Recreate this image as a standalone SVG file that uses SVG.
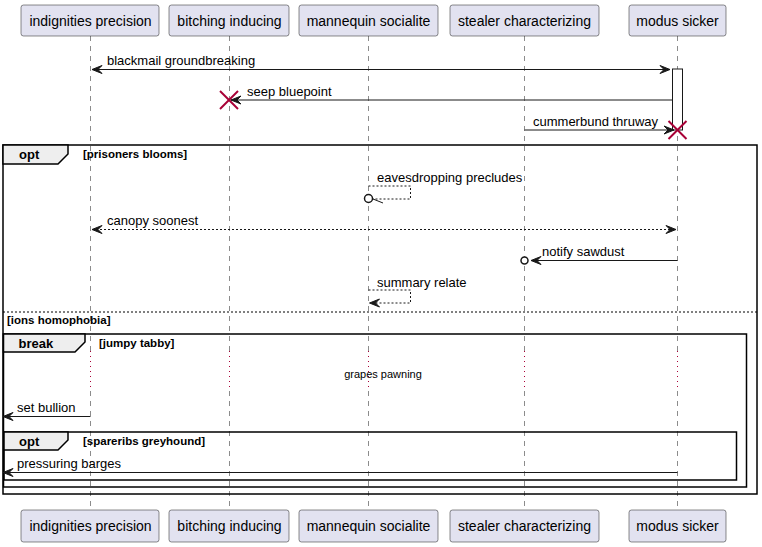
<svg xmlns="http://www.w3.org/2000/svg" width="762" height="547" viewBox="0 0 762 547">
<defs>
<style>
.p rect{fill:#E2E2F0;stroke:#181818;stroke-width:0.5}
.p text{font-family:"Liberation Sans",Arial,sans-serif;font-size:14px;fill:#000;text-anchor:middle}
.life{stroke:#181818;stroke-width:0.5;stroke-dasharray:5,5;fill:none}
.delay{stroke:#A80036;stroke-width:1;stroke-dasharray:1,4;fill:none}
.m{stroke:#181818;stroke-width:1;fill:none}
.md{stroke:#181818;stroke-width:1;fill:none;stroke-dasharray:2,2}
.ah{fill:#181818;stroke:#181818;stroke-width:1}
.lbl{font-family:"Liberation Sans",Arial,sans-serif;font-size:13px;fill:#000}
.frame{fill:none;stroke:#000;stroke-width:1.5}
.tab{fill:#EEEEEE;stroke:#000;stroke-width:1.5}
.ft{font-family:"Liberation Sans",Arial,sans-serif;font-size:13px;font-weight:bold;fill:#000}
.g{font-family:"Liberation Sans",Arial,sans-serif;font-size:11.5px;font-weight:bold;fill:#000}
.x{stroke:#A80036;stroke-width:2}
.sep{stroke:#000;stroke-width:1;stroke-dasharray:2,2}
</style>
</defs>
<g id="lifelines">
<line class="life" x1="90.5" y1="36" x2="90.5" y2="351"/>
<line class="delay" x1="90.5" y1="351" x2="90.5" y2="391"/>
<line class="life" x1="90.5" y1="391" x2="90.5" y2="510"/>
<line class="life" x1="229.5" y1="36" x2="229.5" y2="351"/>
<line class="delay" x1="229.5" y1="351" x2="229.5" y2="391"/>
<line class="life" x1="229.5" y1="391" x2="229.5" y2="510"/>
<line class="life" x1="368.5" y1="36" x2="368.5" y2="351"/>
<line class="delay" x1="368.5" y1="351" x2="368.5" y2="391"/>
<line class="life" x1="368.5" y1="391" x2="368.5" y2="510"/>
<line class="life" x1="524.5" y1="36" x2="524.5" y2="351"/>
<line class="delay" x1="524.5" y1="351" x2="524.5" y2="391"/>
<line class="life" x1="524.5" y1="391" x2="524.5" y2="510"/>
<line class="life" x1="677.5" y1="36" x2="677.5" y2="351"/>
<line class="delay" x1="677.5" y1="351" x2="677.5" y2="391"/>
<line class="life" x1="677.5" y1="391" x2="677.5" y2="510"/>
</g>
<g id="frames">
<rect class="frame" x="3" y="145" width="754" height="349"/>
<polygon class="tab" points="3,145 68,145 68,154 58,164 3,164"/>
<text class="ft" x="19" y="159">opt</text>
<text class="g" x="83" y="158">[prisoners blooms]</text>
<line class="sep" x1="3" y1="312" x2="757" y2="312"/>
<text class="g" x="7" y="324">[ions homophobia]</text>
<rect class="frame" x="3.5" y="334" width="743" height="153"/>
<polygon class="tab" points="3.5,334 85,334 85,342 75,352 3.5,352"/>
<text class="ft" x="18.5" y="348">break</text>
<text class="g" x="99" y="347">[jumpy tabby]</text>
<rect class="frame" x="4" y="432" width="732.5" height="48"/>
<polygon class="tab" points="4,432 68,432 68,440 58,450 4,450"/>
<text class="ft" x="19" y="446">opt</text>
<text class="g" x="83" y="445">[spareribs greyhound]</text>
</g>
<g id="activation">
<rect x="672.5" y="69" width="10" height="61" fill="#FFFFFF" stroke="#181818" stroke-width="1"/>
</g>
<g id="connectors">
<line class="m" x1="92" y1="69.5" x2="670" y2="69.5"/>
<polygon class="ah" points="102,65.5 92,69.5 102,73.5 98,69.5"/>
<polygon class="ah" points="660,65.5 670,69.5 660,73.5 664,69.5"/>
<text class="lbl" x="107" y="65">blackmail groundbreaking</text>
<line class="m" x1="231" y1="100" x2="672" y2="100"/>
<polygon class="ah" points="241,96 231,100 241,104 237,100"/>
<text class="lbl" x="247" y="96">seep bluepoint</text>
<line class="x" x1="220" y1="91" x2="238" y2="109"/>
<line class="x" x1="238" y1="91" x2="220" y2="109"/>
<line class="m" x1="524.5" y1="130" x2="674" y2="130"/>
<polygon class="ah" points="664,126 674,130 664,134 668,130"/>
<text class="lbl" x="533" y="126">cummerbund thruway</text>
<line class="x" x1="668.5" y1="121" x2="686.5" y2="139"/>
<line class="x" x1="686.5" y1="121" x2="668.5" y2="139"/>
<polyline class="md" points="368.5,186 410.5,186 410.5,199 373,199"/>
<circle cx="368.5" cy="198.5" r="4" fill="#FFFFFF" stroke="#181818" stroke-width="1.5"/>
<line class="m" x1="373" y1="199" x2="383" y2="203"/>
<text class="lbl" x="377" y="182">eavesdropping precludes</text>
<line class="md" x1="92" y1="229.5" x2="676" y2="229.5"/>
<polygon class="ah" points="102,225.5 92,229.5 102,233.5 98,229.5"/>
<polygon class="ah" points="666,225.5 676,229.5 666,233.5 670,229.5"/>
<text class="lbl" x="107" y="225">canopy soonest</text>
<line class="m" x1="531" y1="260.5" x2="677.5" y2="260.5"/>
<polygon class="ah" points="541,256.5 531,260.5 541,264.5 537,260.5"/>
<circle cx="524.5" cy="260.5" r="3.5" fill="#FFFFFF" stroke="#181818" stroke-width="1.5"/>
<text class="lbl" x="542" y="256">notify sawdust</text>
<polyline class="md" points="368.5,290 410.5,290 410.5,303 369.5,303"/>
<polygon class="ah" points="379.5,299 369.5,303 379.5,307 375.5,303"/>
<text class="lbl" x="377" y="287">summary relate</text>
<text x="383" y="378" font-family="Liberation Sans, Arial, sans-serif" font-size="11" text-anchor="middle" fill="#000">grapes pawning</text>
<line class="m" x1="3" y1="416.5" x2="90.5" y2="416.5"/>
<polygon class="ah" points="13,412.5 3,416.5 13,420.5 9,416.5"/>
<text class="lbl" x="17" y="412">set bullion</text>
<line class="m" x1="3" y1="472.5" x2="677.5" y2="472.5"/>
<polygon class="ah" points="13,468.5 3,472.5 13,476.5 9,472.5"/>
<text class="lbl" x="17" y="468">pressuring barges</text>
</g>
<g id="p1" class="p"><rect x="21" y="5" width="138" height="31" rx="2.5"/><text x="90.5" y="26">indignities precision</text></g>
<g id="p2" class="p"><rect x="169" y="5" width="120" height="31" rx="2.5"/><text x="229.5" y="26">bitching inducing</text></g>
<g id="p3" class="p"><rect x="299" y="5" width="139" height="31" rx="2.5"/><text x="368.5" y="26">mannequin socialite</text></g>
<g id="p4" class="p"><rect x="450" y="5" width="149" height="31" rx="2.5"/><text x="524.5" y="26">stealer characterizing</text></g>
<g id="p5" class="p"><rect x="629" y="5" width="97" height="31" rx="2.5"/><text x="677.5" y="26">modus sicker</text></g>
<g id="p1b" class="p"><rect x="21" y="510" width="138" height="32" rx="2.5"/><text x="90.5" y="531">indignities precision</text></g>
<g id="p2b" class="p"><rect x="169" y="510" width="120" height="32" rx="2.5"/><text x="229.5" y="531">bitching inducing</text></g>
<g id="p3b" class="p"><rect x="299" y="510" width="139" height="32" rx="2.5"/><text x="368.5" y="531">mannequin socialite</text></g>
<g id="p4b" class="p"><rect x="450" y="510" width="149" height="32" rx="2.5"/><text x="524.5" y="531">stealer characterizing</text></g>
<g id="p5b" class="p"><rect x="629" y="510" width="97" height="32" rx="2.5"/><text x="677.5" y="531">modus sicker</text></g>
</svg>
